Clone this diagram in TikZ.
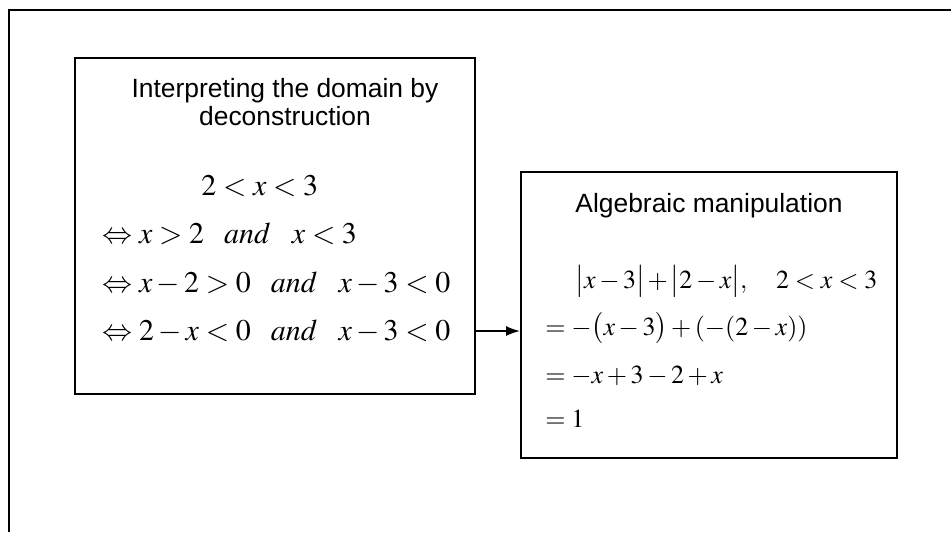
\documentclass[tikz,border=0pt]{standalone}
\usepackage{mathptmx}
\usepackage[no-math]{fontspec}
\setsansfont{Liberation Sans}
\usetikzlibrary{arrows.meta}

\newcommand{\conj}{\hspace{10pt}\mathit{and}\hspace{11pt}}

\tikzset{
  frame/.style={line width=1pt},
  stepbox/.style={draw, line width=1pt, inner sep=0pt},
  headline/.style={anchor=base, inner sep=0pt, font=\sffamily\fontsize{13.2}{15}\selectfont},
  domline/.style={anchor=base west, inner sep=0pt, font=\fontsize{15}{18}\selectfont},
  algline/.style={anchor=base west, inner sep=0pt, font=\fontsize{13}{16}\selectfont},
  link/.style={line width=0.8pt, -{Latex[length=7pt,width=5pt]}}
}

\begin{document}
\begin{tikzpicture}[x=0.5pt, y=-0.5pt]
    \useasboundingbox (0,0) rectangle (951,532);
    \draw[frame] (9,532) -- (9,10) -- (951,10);

    \node[stepbox, minimum width=200pt, minimum height=168pt] (domainbox) at (275,226) {};
    \node[stepbox, minimum width=188pt, minimum height=143pt] (algebrabox) at (709,315) {};

    \node[headline] (domhead1) at (285,97) {Interpreting the domain by};
    \node[headline] (domhead2) at (285,125) {deconstruction};
    \node[domline] (dom1) at (201,195) {$2<x<3$};
    \node[domline] (dom2) at (102,243) {$\Leftrightarrow x>2\conj x<3$};
    \node[domline] (dom3) at (102,292) {$\Leftrightarrow x-2>0\conj x-3<0$};
    \node[domline] (dom4) at (102,340) {$\Leftrightarrow 2-x<0\conj x-3<0$};

    \node[headline] (alghead) at (709,212) {Algebraic manipulation};
    \node[algline] (alg1) at (575,288) {$\bigl|x-3\bigr|\,{+}\,\bigl|2-x\bigr|,\quad 2<x<3$};
    \node[algline] (alg2) at (545,335) {$=-\bigl(x-3\bigr)+(-(2-x))$};
    \node[algline] (alg3) at (545,383) {$=-x+3-2+x$};
    \node[algline] (alg4) at (545,427) {$=1$};

    \coordinate (linky) at (498,331);
    \draw[link] (domainbox.east |- linky) -- (algebrabox.west |- linky);
\end{tikzpicture}
\end{document}
